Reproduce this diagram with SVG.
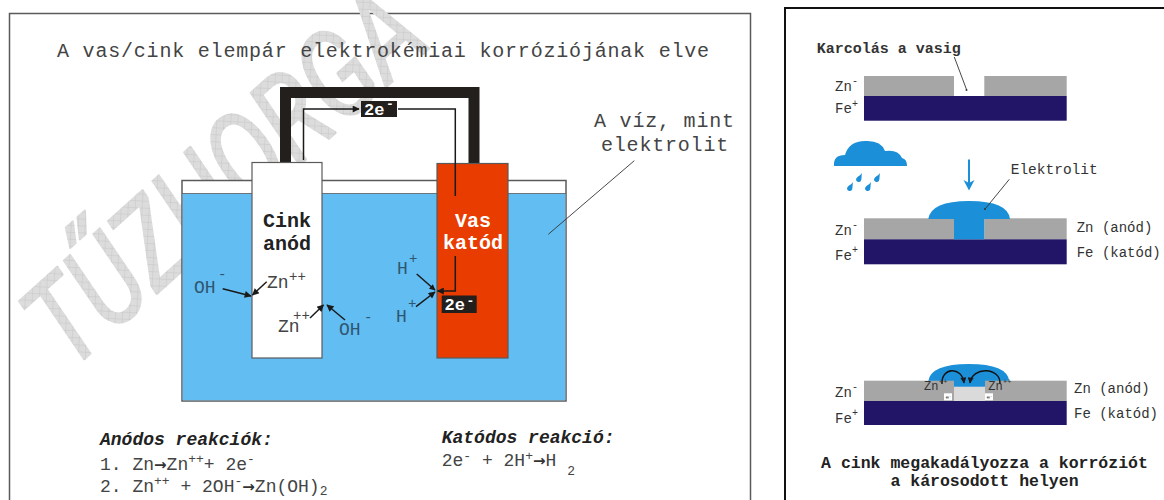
<svg xmlns="http://www.w3.org/2000/svg" width="1164" height="500" viewBox="0 0 1164 500">
  <style>
    .mono { font-family: "Liberation Mono", "DejaVu Sans Mono", monospace; }
    .title { font-size: 20px; fill: #444; letter-spacing: 0.8px; }
    .elab { font-size: 20px; font-weight: bold; text-anchor: middle; }
    .ion { font-size: 18px; }
    .ionb { fill: #2f5670; }
    .ionw { fill: #444; }
    .sup { font-size: 14px; }
    .eq { font-size: 18px; fill: #444; }
    .eqs { font-size: 13px; fill: #444; }
    .to { font-family: "DejaVu Sans", sans-serif; font-size: 15px; font-weight: bold; fill: #333; }
    .head { font-size: 18px; font-weight: bold; font-style: italic; fill: #222; }
    .tag { font-size: 17px; font-weight: bold; fill: #fff; }
    .tagsup { font-size: 13px; font-weight: bold; fill: #fff; }
    .rl { font-size: 14px; fill: #333; }
    .rls { font-size: 10px; fill: #333; }
    .cap { font-size: 16.5px; font-weight: bold; fill: #222; text-anchor: middle; }
    .arr { fill: none; stroke: #1a1a1a; stroke-width: 1.5; }
    .lead { fill: none; stroke: #333; stroke-width: 0.9; }
    .zn { fill: #a6a6a6; }
    .fe { fill: #221466; }
    .water { fill: #1b8fd8; }
  </style>
  <defs>
    <marker id="ah" viewBox="0 0 10 10" refX="9" refY="5" markerWidth="9" markerHeight="7" markerUnits="userSpaceOnUse" orient="auto">
      <path d="M0,0 L10,5 L0,10 z" fill="#1a1a1a"/>
    </marker>
    <marker id="ahs" viewBox="0 0 10 10" refX="9" refY="5" markerWidth="7" markerHeight="6" markerUnits="userSpaceOnUse" orient="auto">
      <path d="M0,0 L10,5 L0,10 z" fill="#1a1a1a"/>
    </marker>
    <pattern id="hatch" width="7" height="7" patternUnits="userSpaceOnUse" patternTransform="rotate(45)">
      <rect width="7" height="7" fill="#dcdcdc"/>
      <path d="M0 0H7M0 0V7" stroke="#c6c6c6" stroke-width="1"/>
    </pattern>
    <path id="drop" d="M1.8,-5.5 C1.2,-3 -2.6,-0.5 -2.6,1.4 A2.6,2.6 0 0 0 2.6,1.4 C2.6,-0.8 2,-3 1.8,-5.5 Z" fill="#1b8fd8"/>
  </defs>

  <rect width="1164" height="500" fill="#fff"/>

  <!-- left panel frame -->
  <rect x="9.5" y="13.5" width="741" height="500" fill="#fff" stroke="#5a5a5a" stroke-width="1.5"/>

  <!-- watermark -->
  <text transform="translate(70,372) rotate(-42)" x="0" y="0" font-family="Roboto, 'DejaVu Sans', sans-serif" font-style="italic" font-size="122" textLength="490" lengthAdjust="spacingAndGlyphs" fill="url(#hatch)" stroke="url(#hatch)" stroke-width="2" stroke-linejoin="round">TŰZHORGA</text>

  <text class="mono title" x="57" y="57">A vas/cink elempár elektrokémiai korróziójának elve</text>

  <!-- electrolyte tank -->
  <g id="tank">
    <rect x="182" y="180.5" width="384" height="220.5" fill="#fff" stroke="#5a5a5a" stroke-width="1.5"/>
    <rect x="182.75" y="193.5" width="382.5" height="206.75" fill="#62bdf2"/>
    <line x1="182" y1="193.5" x2="566" y2="193.5" stroke="#5a5a5a" stroke-width="0.8"/>
  </g>

  <!-- external conductor -->
  <path id="wire" d="M285.5,163 V92.5 H474 V164" fill="none" stroke="#231f1c" stroke-width="11"/>

  <g id="zinc-anode">
    <rect x="252" y="162.5" width="70" height="195.5" fill="#fff" stroke="#5a5a5a" stroke-width="1.2"/>
    <text class="mono elab" x="287" y="227" fill="#222">Cink</text>
    <text class="mono elab" x="287" y="250" fill="#222">anód</text>
  </g>

  <g id="iron-cathode">
    <rect x="437" y="163.5" width="71" height="194.5" fill="#e83c00" stroke="#5a5a5a" stroke-width="1.2"/>
    <text class="mono elab" x="473" y="227" fill="#fff">Vas</text>
    <text class="mono elab" x="473" y="249" fill="#fff">katód</text>
  </g>

  <!-- electron flow and ion movement -->
  <g id="connectors">
    <path class="arr" d="M303.5,160 V109 H359" marker-end="url(#ah)"/>
    <path class="arr" d="M398,109 H455.3 V196" stroke-width="1.2"/>
    <path class="arr" d="M455.3,256 V291 H437.5" stroke-width="2" marker-end="url(#ah)"/>
    <line class="arr" x1="222.7" y1="288.7" x2="251" y2="296" marker-end="url(#ah)"/>
    <line class="arr" x1="266.7" y1="281.7" x2="252.5" y2="295" marker-end="url(#ah)"/>
    <line class="arr" x1="310" y1="318" x2="323.5" y2="305" marker-end="url(#ah)"/>
    <line class="arr" x1="345" y1="320" x2="327" y2="305" marker-end="url(#ah)"/>
    <line class="arr" x1="416.7" y1="274" x2="435" y2="290" stroke-width="0.8" marker-end="url(#ahs)"/>
    <line class="arr" x1="416" y1="306.7" x2="435" y2="292" marker-end="url(#ah)"/>
    <line class="lead" x1="634.3" y1="160.7" x2="548.3" y2="234.3"/>
  </g>

  <g id="electron-tag-top">
    <rect x="361" y="101" width="36" height="16" fill="#231f1c"/>
    <text class="mono tag" x="364" y="114.5">2e</text>
    <text class="mono tagsup" x="386" y="108">-</text>
  </g>
  <g id="electron-tag-bottom">
    <rect x="441.7" y="295.5" width="35" height="17.5" fill="#231f1c"/>
    <text class="mono tag" x="444.5" y="310">2e</text>
    <text class="mono tagsup" x="466.5" y="305">-</text>
  </g>

  <g id="ions" class="mono">
    <text class="ion ionb" x="194" y="293">OH</text>
    <text class="sup ionb" x="218" y="279">-</text>
    <text class="ion ionw" x="267" y="288">Zn</text>
    <text class="sup ionw" x="289" y="281">++</text>
    <text class="ion ionw" x="278" y="332">Zn</text>
    <text class="sup ionw" x="293" y="320">++</text>
    <text class="ion ionb" x="339" y="335">OH</text>
    <text class="sup ionb" x="364" y="322">-</text>
    <text class="ion ionb" x="397" y="273.5">H</text>
    <text class="sup ionb" x="409" y="263">+</text>
    <text class="ion ionb" x="396" y="322">H</text>
    <text class="sup ionb" x="408" y="308">+</text>
  </g>

  <text class="mono title" x="594" y="126.7">A víz, mint</text>
  <text class="mono title" x="601" y="150.7">elektrolit</text>

  <!-- reaction equations -->
  <g id="reactions" class="mono">
    <text class="head" x="100" y="445">Anódos reakciók:</text>
    <text class="eq" x="100" y="470">1. Zn<tspan class="to">→</tspan>Zn<tspan class="eqs" dy="-7">++</tspan><tspan dy="7">+ 2e</tspan><tspan class="eqs" dy="-7">-</tspan></text>
    <text class="eq" x="100" y="491.7">2. Zn<tspan class="eqs" dy="-7">++</tspan><tspan dy="7"> + 2OH</tspan><tspan class="eqs" dy="-7">-</tspan><tspan class="to" dy="7">→</tspan>Zn(OH)<tspan class="eqs" dy="3">2</tspan></text>
    <text class="head" x="441.7" y="443">Katódos reakció:</text>
    <text class="eq" x="441.7" y="466">2e<tspan class="eqs" dy="-6">-</tspan><tspan dy="6"> + 2H</tspan><tspan class="eqs" dy="-6">+</tspan><tspan class="to" dy="6">→</tspan>H <tspan class="eqs" dy="9">2</tspan></text>
  </g>

  <!-- right panel -->
  <rect x="785" y="8" width="400" height="500" fill="#fff" stroke="#111" stroke-width="2"/>

  <g id="step-scratch" class="mono">
    <text x="816.7" y="53.3" font-size="15" font-weight="bold" fill="#333">Karcolás a vasig</text>
    <line class="lead" x1="954.3" y1="57" x2="966.5" y2="89.5"/>
    <circle cx="966.5" cy="90" r="1" fill="#333"/>
    <rect class="zn" x="864" y="76" width="90" height="20"/>
    <rect class="zn" x="984.3" y="76" width="82.4" height="20"/>
    <rect class="fe" x="864" y="96" width="202.7" height="24.7"/>
    <text class="rl" x="835" y="90.7">Zn</text><text class="rls" x="852" y="84">-</text>
    <text class="rl" x="835" y="113.3">Fe</text><text class="rls" x="852" y="107">+</text>
  </g>

  <g id="step-electrolyte" class="mono">
    <path class="water" d="M834,166 Q833,155 845,155 Q849,141 865,141 Q881,140 885,151 Q898,149 902,158 Q907,159 907,166 Z"/>
    <use href="#drop" transform="translate(859,178) rotate(12)"/>
    <use href="#drop" transform="translate(877,178) rotate(12)"/>
    <use href="#drop" transform="translate(850,187) rotate(12)"/>
    <use href="#drop" transform="translate(868,187) rotate(12)"/>
    <line x1="969" y1="159.5" x2="969" y2="184" stroke="#1b8fd8" stroke-width="2"/>
    <path d="M963.5,180 L969,190.5 L974.5,180 L969,183 Z" fill="#1b8fd8"/>
    <text x="1010.7" y="174" font-size="14.5" fill="#333">Elektrolit</text>
    <rect class="zn" x="864" y="218.3" width="90" height="21"/>
    <rect class="zn" x="984.3" y="218.3" width="82.4" height="21"/>
    <rect class="fe" x="864" y="239.3" width="202.7" height="25"/>
    <path class="water" d="M928.3,219 Q931,201 969,201 Q1008,201 1010,219 Z"/>
    <rect class="water" x="954" y="218" width="30.3" height="21.3"/>
    <line class="lead" x1="1009.3" y1="179.3" x2="985.5" y2="208.5"/>
    <circle cx="985" cy="209" r="1" fill="#333"/>
    <text class="rl" x="835" y="235">Zn</text><text class="rls" x="852" y="228">-</text>
    <text class="rl" x="835" y="260">Fe</text><text class="rls" x="852" y="253">+</text>
    <text class="rl" x="1076.7" y="231.7">Zn (anód)</text>
    <text class="rl" x="1076.7" y="256.7">Fe (katód)</text>
  </g>

  <g id="step-protection" class="mono">
    <path class="water" d="M928.3,381 Q931,364 969,364 Q1007,364 1009.3,381 Z"/>
    <rect class="zn" x="864" y="380.7" width="90" height="20.3"/>
    <rect class="zn" x="985" y="380.7" width="81.7" height="20.3"/>
    <rect class="water" x="954" y="380" width="31" height="7"/>
    <rect x="954" y="386.7" width="31" height="14.3" fill="#dadada"/>
    <rect class="fe" x="864" y="401" width="202.7" height="24"/>
    <path d="M942,384 C941,367 962,366 964,383" fill="none" stroke="#111" stroke-width="1.4" marker-end="url(#ahs)"/>
    <path d="M1000,384 C1001,367 972,366 970,383" fill="none" stroke="#111" stroke-width="1.4" marker-end="url(#ahs)"/>
    <text x="924" y="390" font-size="12" fill="#333">Zn</text><text x="939" y="384" font-size="7" fill="#333">++</text>
    <text x="988.3" y="390" font-size="12" fill="#333">Zn</text><text x="1003" y="384" font-size="7" fill="#333">++</text>
    <rect x="944" y="393.3" width="8" height="7" fill="#fff"/>
    <text x="945.5" y="399.3" font-size="6" fill="#333">e<tspan dy="-2" font-size="4">-</tspan></text>
    <rect x="985" y="393.3" width="8" height="7" fill="#fff"/>
    <text x="986.5" y="399.3" font-size="6" fill="#333">e<tspan dy="-2" font-size="4">-</tspan></text>
    <text class="rl" x="835" y="396.7">Zn</text><text class="rls" x="852" y="390">-</text>
    <text class="rl" x="835" y="422.7">Fe</text><text class="rls" x="852" y="416">+</text>
    <text class="rl" x="1074" y="393.3">Zn (anód)</text>
    <text class="rl" x="1074" y="418.3">Fe (katód)</text>
    <text class="cap" x="984.5" y="468.3">A cink megakadályozza a korróziót</text>
    <text class="cap" x="984.5" y="486">a károsodott helyen</text>
  </g>
</svg>
